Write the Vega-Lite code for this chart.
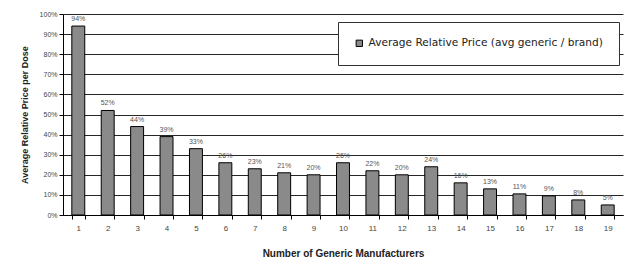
{
  "$schema": "https://vega.github.io/schema/vega-lite/v6.json",
  "width": 624,
  "height": 260,
  "autosize": {"type": "fit", "contains": "padding"},
  "padding": {"left": 20, "right": 1, "top": 10, "bottom": 2},
  "background": "white",
  "config": {"view": {"stroke": null}, "font": "Liberation Sans"},
  "data": {"values": [
    {"n": "1", "v": 0.94, "label": "94%", "series": "Average Relative Price (avg generic / brand)"},
    {"n": "2", "v": 0.52, "label": "52%", "series": "Average Relative Price (avg generic / brand)"},
    {"n": "3", "v": 0.44, "label": "44%", "series": "Average Relative Price (avg generic / brand)"},
    {"n": "4", "v": 0.39, "label": "39%", "series": "Average Relative Price (avg generic / brand)"},
    {"n": "5", "v": 0.33, "label": "33%", "series": "Average Relative Price (avg generic / brand)"},
    {"n": "6", "v": 0.26, "label": "26%", "series": "Average Relative Price (avg generic / brand)"},
    {"n": "7", "v": 0.23, "label": "23%", "series": "Average Relative Price (avg generic / brand)"},
    {"n": "8", "v": 0.21, "label": "21%", "series": "Average Relative Price (avg generic / brand)"},
    {"n": "9", "v": 0.20, "label": "20%", "series": "Average Relative Price (avg generic / brand)"},
    {"n": "10", "v": 0.26, "label": "26%", "series": "Average Relative Price (avg generic / brand)"},
    {"n": "11", "v": 0.22, "label": "22%", "series": "Average Relative Price (avg generic / brand)"},
    {"n": "12", "v": 0.20, "label": "20%", "series": "Average Relative Price (avg generic / brand)"},
    {"n": "13", "v": 0.24, "label": "24%", "series": "Average Relative Price (avg generic / brand)"},
    {"n": "14", "v": 0.16, "label": "16%", "series": "Average Relative Price (avg generic / brand)"},
    {"n": "15", "v": 0.13, "label": "13%", "series": "Average Relative Price (avg generic / brand)"},
    {"n": "16", "v": 0.105, "label": "11%", "series": "Average Relative Price (avg generic / brand)"},
    {"n": "17", "v": 0.095, "label": "9%", "series": "Average Relative Price (avg generic / brand)"},
    {"n": "18", "v": 0.075, "label": "8%", "series": "Average Relative Price (avg generic / brand)"},
    {"n": "19", "v": 0.05, "label": "5%", "series": "Average Relative Price (avg generic / brand)"}
  ]},
  "encoding": {
    "x": {"field": "n", "type": "ordinal", "sort": null,
      "scale": {"paddingInner": 0.56, "paddingOuter": 0.3},
      "axis": {"title": "Number of Generic Manufacturers", "labelAngle": 0, "labelFontSize": 8, "labelColor": "#444", "titleFontSize": 10, "titleFontWeight": "bold", "titleColor": "#222", "titlePadding": 16, "domainColor": "#000", "tickColor": "#000", "tickBand": "extent", "tickSize": 4, "labelPadding": 5}},
    "y": {"field": "v", "type": "quantitative",
      "scale": {"domain": [0, 1], "nice": false},
      "axis": {"title": "Average Relative Price per Dose", "format": ".0%", "values": [0,0.1,0.2,0.3,0.4,0.5,0.6,0.7,0.8,0.9,1], "labelOverlap": false, "labelFontSize": 7, "labelColor": "#444", "titleFontSize": 9, "titleFontWeight": "bold", "titleColor": "#222", "gridColor": "#000", "gridOpacity": 0.85, "domainColor": "#000", "tickColor": "#000", "tickSize": 4, "titlePadding": 10}}
  },
  "layer": [
    {"mark": {"type": "bar", "stroke": "#000", "strokeWidth": 1},
     "encoding": {"color": {"field": "series", "type": "nominal",
        "scale": {"range": ["#8a8a8a"]},
        "legend": {"title": null, "orient": "none", "legendX": 275, "legendY": 8, "fillColor": "white", "strokeColor": "#333", "padding": 16, "labelFont": "DejaVu Sans", "labelFontSize": 10.6, "labelColor": "#222", "symbolType": "square", "symbolStrokeColor": "#000", "symbolStrokeWidth": 1, "symbolSize": 40, "labelLimit": 320}}}},
    {"mark": {"type": "text", "dy": -7, "fontSize": 7, "color": "#555"},
     "encoding": {"text": {"field": "label"}}}
  ]
}
